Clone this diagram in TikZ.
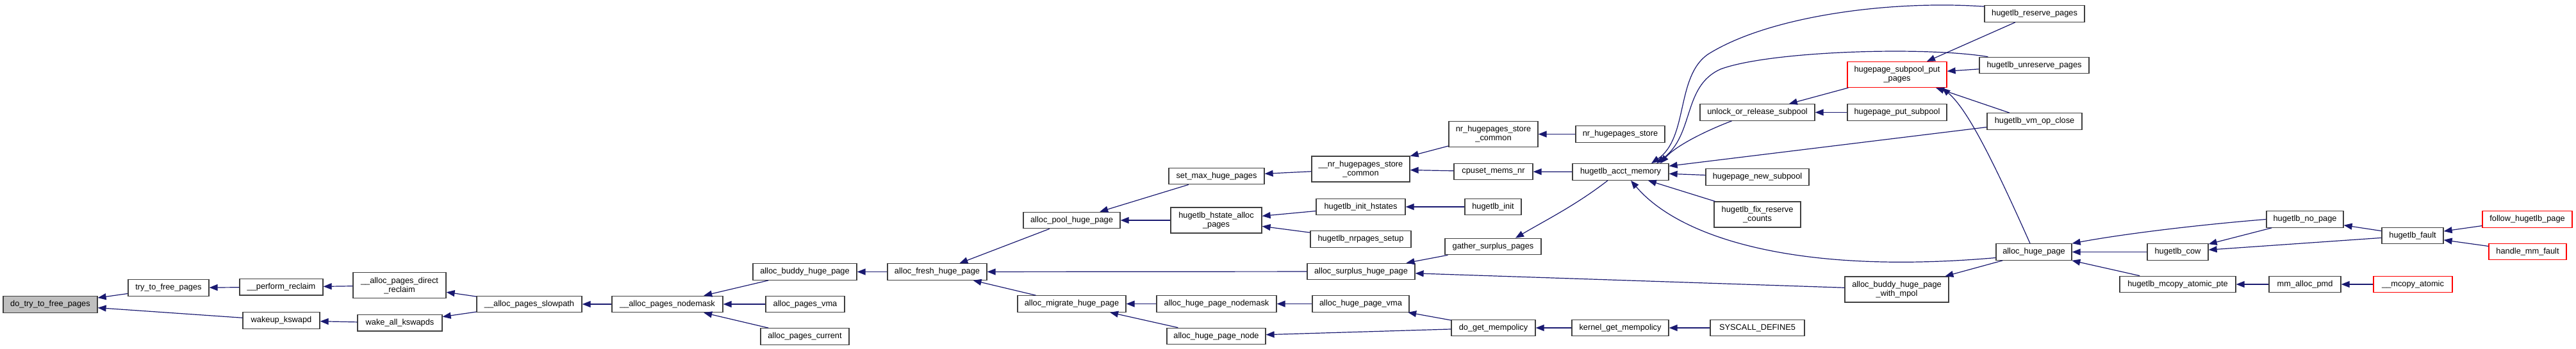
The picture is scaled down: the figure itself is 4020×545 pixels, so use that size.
\documentclass[tikz,border=0pt]{standalone}
\usepackage{fontspec}
\setmainfont{Liberation Sans}
\usetikzlibrary{arrows.meta}
\definecolor{mblue}{RGB}{25,25,112}
\definecolor{boxgrey}{RGB}{191,191,191}
\newcommand\nodefont{\fontsize{12.8}{14}\selectfont}
\begin{document}
\begin{tikzpicture}[x=1pt,y=-1pt,
  box/.style={draw=black!75, line width=1.2pt, fill=white, inner sep=0pt, align=center, font=\nodefont, minimum height=25.5pt},
  two/.style={minimum height=40pt},
  redbox/.style={draw=red},
  edge/.style={draw=mblue, line width=1.2pt, -{Triangle[length=13pt,width=10pt]}}]
\useasboundingbox (0,0) rectangle (4020,545);
% column nodes
\node[box, fill=boxgrey, minimum width=147pt] (dotry) at (78.5,475.5) {do\_try\_to\_free\_pages};
\node[box, minimum width=126pt] (ttfp) at (263,449.5) {try\_to\_free\_pages};
\node[box, minimum width=130pt] (perf) at (439,448.3) {\_\_perform\_reclaim};
\node[box, two, minimum width=145pt] (direct) at (623.5,445.7) {\_\_alloc\_pages\_direct\\\_reclaim};
\node[box, minimum width=120pt] (wakeup) at (439,500.5) {wakeup\_kswapd};
\node[box, minimum width=132pt] (wakeall) at (624,504.3) {wake\_all\_kswapds};
\node[box, minimum width=164pt] (slow) at (826,475) {\_\_alloc\_pages\_slowpath};
\node[box, minimum width=173pt] (nodemask) at (1041.5,475) {\_\_alloc\_pages\_nodemask};
\node[box, minimum width=162pt] (buddy) at (1256,424.5) {alloc\_buddy\_huge\_page};
\node[box, minimum width=123pt] (pvma) at (1256.5,475) {alloc\_pages\_vma};
\node[box, minimum width=138pt] (pcur) at (1256,525.5) {alloc\_pages\_current};
\node[box, minimum width=155pt] (fresh) at (1462.5,424.5) {alloc\_fresh\_huge\_page};
\node[box, minimum width=151pt] (pool) at (1672.5,344) {alloc\_pool\_huge\_page};
\node[box, minimum width=169pt] (migrate) at (1672.5,474.5) {alloc\_migrate\_huge\_page};
\node[box, minimum width=149pt] (setmax) at (1898.5,275) {set\_max\_huge\_pages};
\node[box, two, minimum width=142pt] (hstate) at (1898,344) {hugetlb\_hstate\_alloc\\\_pages};
\node[box, minimum width=187pt] (hpnodemask) at (1898.5,474.5) {alloc\_huge\_page\_nodemask};
\node[box, minimum width=154pt] (hpnode) at (1898,525) {alloc\_huge\_page\_node};
\node[box, two, minimum width=153pt] (nrcommon) at (2123.5,264) {\_\_nr\_hugepages\_store\\\_common};
\node[box, two, minimum width=139pt] (nrstorecommon) at (2330.5,209.5) {nr\_hugepages\_store\\\_common};
\node[box, minimum width=139pt] (nrstore) at (2528.5,209.5) {nr\_hugepages\_store};
\node[box, minimum width=123pt] (cpuset) at (2330.5,268) {cpuset\_mems\_nr};
\node[box, minimum width=150pt] (acct) at (2529,268.5) {hugetlb\_acct\_memory};
\node[box, minimum width=139pt] (inithstates) at (2123.5,323) {hugetlb\_init\_hstates};
\node[box, minimum width=88pt] (init) at (2330,323) {hugetlb\_init};
\node[box, minimum width=157pt] (nrpages) at (2123.5,373.5) {hugetlb\_nrpages\_setup};
\node[box, minimum width=150pt] (gather) at (2330,385) {gather\_surplus\_pages};
\node[box, minimum width=168pt] (surplus) at (2124,424) {alloc\_surplus\_huge\_page};
\node[box, minimum width=151pt] (hpvma) at (2123.5,474.5) {alloc\_huge\_page\_vma};
\node[box, minimum width=131pt] (dogetmp) at (2330.5,512) {do\_get\_mempolicy};
\node[box, minimum width=151pt] (kgetmp) at (2528.5,512) {kernel\_get\_mempolicy};
\node[box, minimum width=156pt] (reserve) at (3175,21.5) {hugetlb\_reserve\_pages};
\node[box, minimum width=171pt] (unreserve) at (3174.5,102) {hugetlb\_unreserve\_pages};
\node[box, two, redbox, minimum width=155pt] (sputpages) at (2960.5,116.5) {hugepage\_subpool\_put\\\_pages};
\node[box, minimum width=179pt] (unlock) at (2742.5,175.5) {unlock\_or\_release\_subpool};
\node[box, minimum width=155pt] (putsub) at (2960.5,175.5) {hugepage\_put\_subpool};
\node[box, minimum width=148pt] (vmclose) at (3175,189.5) {hugetlb\_vm\_op\_close};
\node[box, minimum width=161pt] (newsub) at (2742.5,276.5) {hugepage\_new\_subpool};
\node[box, two, minimum width=135pt] (fixres) at (2742.5,335) {hugetlb\_fix\_reserve\\\_counts};
\node[box, minimum width=118pt] (allochp) at (3174,393.5) {alloc\_huge\_page};
\node[box, two, minimum width=162pt] (withmpol) at (2960,452) {alloc\_buddy\_huge\_page\\\_with\_mpol};
\node[box, minimum width=147pt] (syscall) at (2742.5,512) {SYSCALL\_DEFINE5};
\node[box, minimum width=120pt] (nopage) at (3597,342.5) {hugetlb\_no\_page};
\node[box, minimum width=95pt] (cow) at (3398.5,393.5) {hugetlb\_cow};
\node[box, minimum width=181pt] (mcopypte) at (3398.5,444) {hugetlb\_mcopy\_atomic\_pte};
\node[box, minimum width=112pt] (mmpmd) at (3597,444) {mm\_alloc\_pmd};
\node[box, redbox, minimum width=123pt] (mcopy) at (3765.5,444) {\_\_mcopy\_atomic};
\node[box, minimum width=96pt] (fault) at (3765,368) {hugetlb\_fault};
\node[box, redbox, minimum width=140pt] (follow) at (3944,342.5) {follow\_hugetlb\_page};
\node[box, redbox, minimum width=121pt] (handle) at (3944.5,393) {handle\_mm\_fault};
% edges
\draw[edge] (ttfp) -- (dotry);
\draw[edge] (wakeup) -- (dotry);
\draw[edge] (perf) -- (ttfp);
\draw[edge] (direct) -- (perf);
\draw[edge] (wakeall) -- (wakeup);
\draw[edge] (slow) -- (direct);
\draw[edge] (slow) -- (wakeall);
\draw[edge] (nodemask) -- (slow);
\draw[edge] (buddy) -- (nodemask);
\draw[edge] (pvma) -- (nodemask);
\draw[edge] (pcur) -- (nodemask);
\draw[edge] (fresh) -- (buddy);
\draw[edge] (pool) -- (fresh);
\draw[edge] (surplus) -- (fresh);
\draw[edge] (migrate) -- (fresh);
\draw[edge] (setmax) -- (pool);
\draw[edge] (hstate) -- (pool);
\draw[edge] (hpnodemask) -- (migrate);
\draw[edge] (hpnode) -- (migrate);
\draw[edge] (nrcommon) -- (setmax);
\draw[edge] (inithstates) -- (hstate);
\draw[edge] (nrpages) -- (hstate);
\draw[edge] (hpvma) -- (hpnodemask);
\draw[edge] (dogetmp) -- (hpnode);
\draw[edge] (nrstorecommon) -- (nrcommon);
\draw[edge] (cpuset) -- (nrcommon);
\draw[edge] (init) -- (inithstates);
\draw[edge] (gather) -- (surplus);
\draw[edge] (withmpol) -- (surplus);
\draw[edge] (dogetmp) -- (hpvma);
\draw[edge] (nrstore) -- (nrstorecommon);
\draw[edge] (acct) -- (cpuset);
\draw[edge] ([xshift=-20pt]acct.south) .. controls (2460,320) and (2410,345) .. ([xshift=35pt]gather.north);
\draw[edge] (kgetmp) -- (dogetmp);
\draw[edge] (syscall) -- (kgetmp);
\draw[edge] ([yshift=-2pt]reserve.north west) .. controls (2950,0) and (2760,25) .. (2665,85) .. controls (2615,120) and (2635,215) .. ([xshift=48pt]acct.north);
\draw[edge] ([xshift=14pt]unreserve.north west) .. controls (3000,72) and (2760,80) .. (2685,108) .. controls (2625,135) and (2645,210) .. ([xshift=56pt]acct.north);
\draw[edge] ([xshift=-40pt]unlock.south) .. controls (2660,205) and (2615,228) .. ([xshift=62pt]acct.north);
\draw[edge] (vmclose) -- (acct);
\draw[edge] (newsub) -- (acct);
\draw[edge] (fixres) -- (acct);
\draw[edge] ([yshift=-9pt]allochp.west) .. controls (2800,430) and (2620,370) .. ([xshift=16pt]acct.south);
\draw[edge] (sputpages) -- (unlock);
\draw[edge] (putsub) -- (unlock);
\draw[edge] (reserve) -- (sputpages);
\draw[edge] (unreserve) -- (sputpages);
\draw[edge] (vmclose) -- (sputpages);
\draw[edge] ([xshift=-6pt]allochp.north) .. controls (3110,250) and (3070,170) .. ([xshift=70pt]sputpages.south);
\draw[edge] (allochp) -- (withmpol);
\draw[edge] (nopage.west) .. controls (3420,352) and (3310,366) .. (allochp.north east);
\draw[edge] (cow) -- (allochp);
\draw[edge] (mcopypte) -- (allochp);
\draw[edge] (fault) -- (nopage);
\draw[edge] (nopage) -- (cow);
\draw[edge] (fault) -- (cow);
\draw[edge] (mmpmd) -- (mcopypte);
\draw[edge] (mcopy) -- (mmpmd);
\draw[edge] (follow) -- (fault);
\draw[edge] (handle) -- (fault);
\end{tikzpicture}
\end{document}
